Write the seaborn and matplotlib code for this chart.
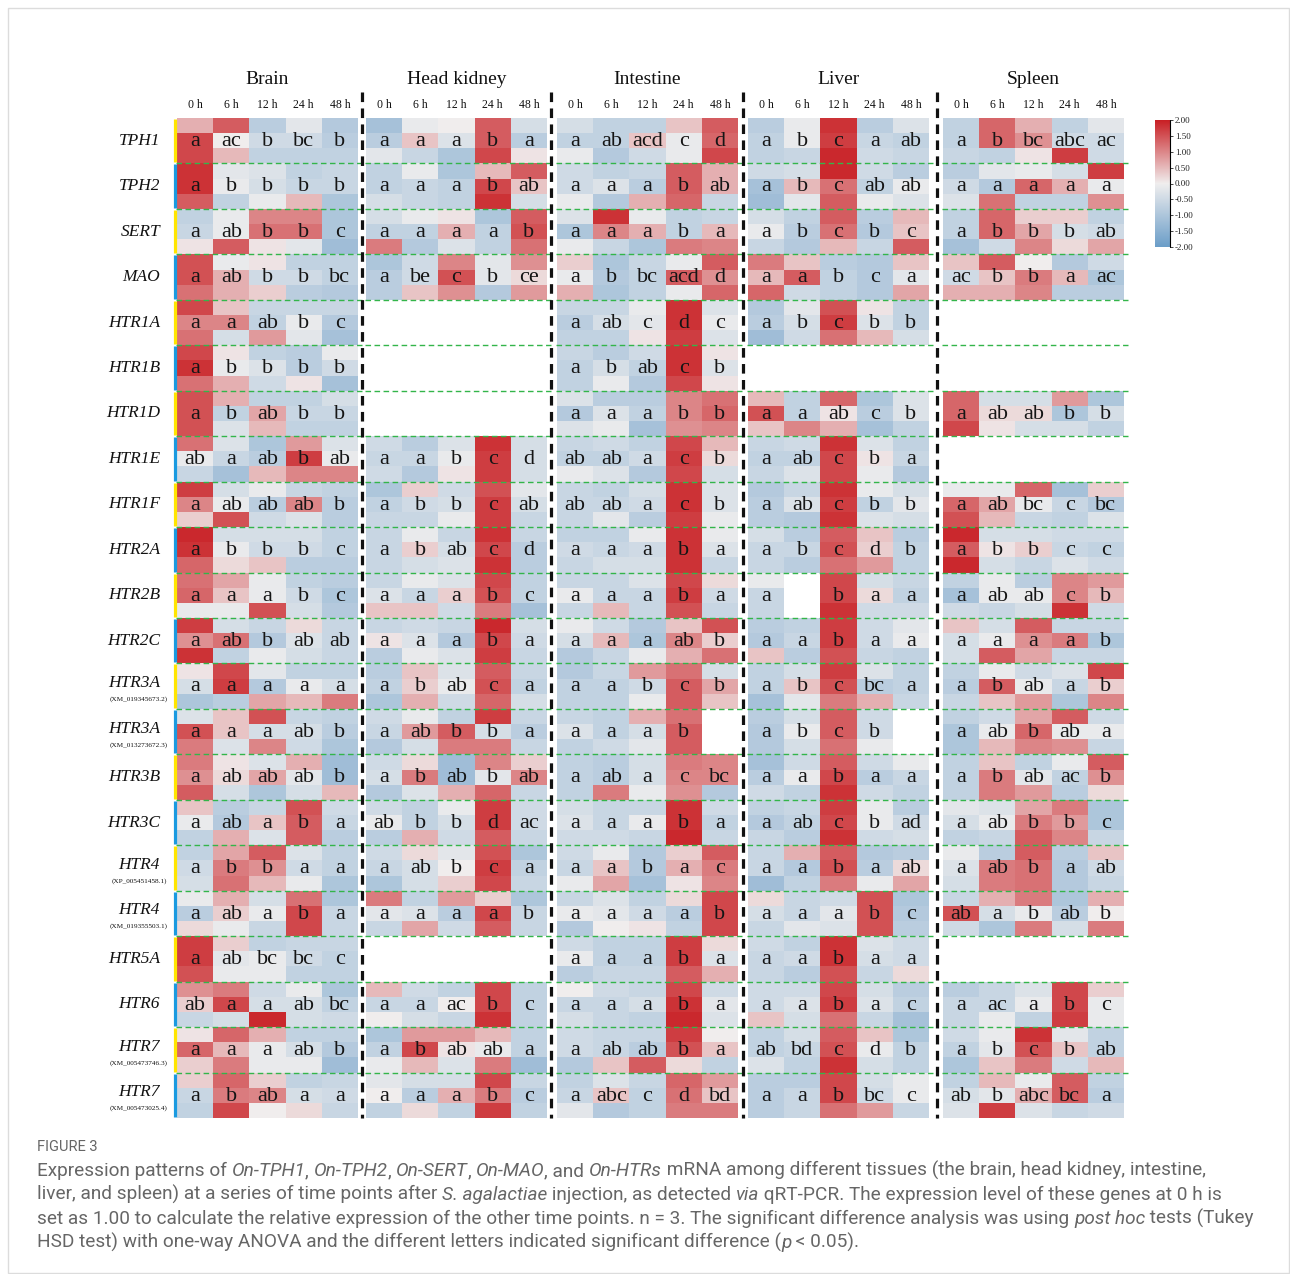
import numpy as np
import pandas as pd
import seaborn as sns
import matplotlib.pyplot as plt
from matplotlib.colors import LinearSegmentedColormap
from matplotlib.patches import Rectangle
from matplotlib import font_manager

nan = np.nan

genes = ["TPH1", "TPH2", "SERT", "MAO", "HTR1A", "HTR1B", "HTR1D", "HTR1E", "HTR1F",
         "HTR2A", "HTR2B", "HTR2C", "HTR3A", "HTR3A", "HTR3B", "HTR3C", "HTR4", "HTR4",
         "HTR5A", "HTR6", "HTR7", "HTR7"]
accessions = ["", "", "", "", "", "", "", "", "", "", "", "",
              "(XM_019345673.2)", "(XM_013273672.3)", "", "",
              "(XP_005451458.1)", "(XM_019355503.1)", "", "",
              "(XM_005473746.3)", "(XM_005473025.4)"]
tissues = ["Brain", "Head kidney", "Intestine", "Liver", "Spleen"]
times = ["0 h", "6 h", "12 h", "24 h", "48 h"]

# relative expression (log scale, -2..2), 3 replicates per gene, None = not detected
brain = [
    [[0.6, 1.4, -0.8, -0.2, -0.9], [1.6, 0.0, -0.5, -0.5, -0.8], [1.6, 0.5, -0.7, -0.7, -0.7]],
    [[1.8, -0.2, -0.3, -0.7, -0.6], [1.8, -0.1, -0.4, -0.6, -0.6], [1.4, -0.7, -0.1, 0.5, -1.0]],
    [[-0.7, -0.1, 1.0, 1.0, -1.0], [-0.6, -0.1, 1.2, 1.2, -1.0], [0.1, 1.4, 0.1, -0.2, -1.2]],
    [[1.5, -0.1, 0.1, -0.7, -0.7], [1.5, 0.6, -0.5, -0.5, -0.7], [1.2, 0.6, 0.3, -0.8, -0.9]],
    [[1.6, 0.4, -0.6, -0.6, -0.6], [1.0, 1.0, -0.7, -0.1, -0.9], [1.2, -0.4, 0.8, -0.2, -1.1]],
    [[1.6, 0.1, -0.7, -0.8, -0.1], [1.8, -0.1, -0.3, -0.8, -0.5], [1.2, 0.6, -0.5, 0.1, -1.1]],
    [[1.5, 0.6, -0.7, -0.7, -0.4], [1.5, -0.7, 0.7, -0.6, -0.6], [1.5, -0.3, 0.5, -0.7, -0.7]],
    [[1.2, -0.3, -1.0, 0.8, -0.3], [-0.1, -0.6, -0.8, 1.7, -0.1], [-0.6, -1.1, 0.5, 1.0, 1.0]],
    [[1.7, -0.4, -0.1, -0.6, -0.7], [1.0, -0.1, -0.8, 1.0, -0.8], [0.3, 1.5, -0.5, -0.3, -0.8]],
    [[1.9, -0.4, -0.4, -0.4, -0.7], [1.8, -0.1, -0.5, -0.5, -0.7], [1.3, 0.2, 0.4, -0.8, -0.8]],
    [[1.2, 0.7, -0.1, -0.7, -0.8], [1.3, 0.4, -0.1, -0.5, -1.0], [-0.1, -0.1, 1.5, -0.4, -0.9]],
    [[1.7, -0.4, -0.6, 0.2, -0.6], [0.9, 1.2, -0.9, -0.3, -0.6], [1.8, -0.7, -0.1, -0.4, -0.6]],
    [[0.1, 1.6, -0.2, -0.7, -0.7], [-0.4, 1.7, -0.9, -0.1, -0.4], [-1.0, -0.8, 0.7, 0.5, 1.1]],
    [[-0.3, 0.4, 1.5, -0.6, -0.7], [1.5, 0.4, -0.4, -0.4, -0.8], [1.1, -0.3, 1.0, -0.5, -1.0]],
    [[1.1, 0.1, -0.3, 0.6, -1.2], [0.9, 0.2, 0.7, -0.2, -1.2], [1.4, -0.4, -1.0, -0.4, 0.5]],
    [[0.4, -0.8, -0.6, 1.5, -0.5], [-0.1, -0.9, 0.4, 1.4, -0.6], [-0.7, 0.6, -0.3, 1.4, -0.8]],
    [[-0.7, 0.7, 1.4, -0.3, -0.7], [-0.5, 1.1, 0.9, -0.5, -0.7], [-0.4, 1.2, 0.5, -0.1, -1.0]],
    [[-0.1, 0.6, -0.4, 1.2, -1.0], [-0.8, 0.3, -0.1, 1.6, -0.6], [0.2, -0.1, -0.6, 1.6, -0.6]],
    [[1.7, 0.3, -0.7, -0.6, -0.6], [1.7, -0.2, -0.1, -0.5, -0.7], [1.5, -0.1, -0.1, -0.7, -0.7]],
    [[0.9, 1.1, -0.5, -0.1, -1.0], [0.3, 1.6, -0.4, -0.4, -0.7], [-0.6, -0.4, 1.9, -0.4, -0.5]],
    [[0.1, 1.3, 0.6, -0.7, -0.7], [1.3, 0.5, -0.1, -0.4, -0.9], [0.3, 1.1, -0.1, -0.1, -1.2]],
    [[0.3, 1.3, 0.3, -0.7, -0.6], [-0.6, 1.1, 1.0, -0.4, -0.5], [-0.7, 1.6, 0.0, 0.2, -0.6]],
]
head_kidney = [
    [[-1.1, -0.1, 0.0, 1.4, -0.4], [-0.8, 0.4, -0.3, 1.4, -0.8], [-0.2, -0.6, -1.0, 1.6, 0.1]],
    [[-0.7, -0.1, -1.0, 0.5, 1.4], [-0.7, -0.6, -0.7, 1.6, 0.4], [-0.4, -0.6, -0.7, 1.8, -0.4]],
    [[-0.4, -0.1, 0.1, -1.0, 1.4], [-0.7, -0.7, 0.6, -0.7, 1.5], [1.1, -0.9, -0.3, -0.7, 1.2]],
    [[-1.0, -0.5, 1.0, -0.2, 0.9], [-0.8, -0.5, 1.5, -0.2, 0.2], [-0.8, 0.4, 0.9, -0.9, 0.8]],
    None,
    None,
    None,
    [[-0.5, -0.8, -0.3, 1.8, -0.4], [-0.6, -0.6, -0.1, 1.7, -0.4], [-0.5, -0.9, 0.1, 1.7, -0.4]],
    [[-1.0, 0.3, -0.5, 1.5, -0.2], [-0.7, -0.5, -0.4, 1.7, -0.4], [-0.6, -0.6, -0.1, 1.7, -0.6]],
    [[-0.6, -0.1, -0.6, 1.8, -0.6], [-0.6, 0.3, -0.4, 1.6, -0.8], [-0.6, -0.4, -0.3, 1.8, -0.8]],
    [[-0.6, -0.1, -0.3, 1.6, -0.7], [-0.3, -0.6, 0.3, 1.5, -0.7], [0.4, 0.4, -0.5, 1.1, -1.1]],
    [[-0.6, -0.5, -0.6, 1.9, -0.4], [0.1, -0.3, -0.9, 1.6, -0.5], [-0.8, -0.1, -0.3, 1.7, -0.6]],
    [[-0.8, 0.4, -0.3, 1.4, -0.6], [-0.7, 0.3, -0.1, 1.5, -0.7], [-1.0, 0.6, -0.5, 1.3, -0.4]],
    [[-0.5, -0.1, -0.7, 1.7, -0.6], [-0.6, 0.8, 1.4, -0.4, -0.8], [-0.9, -0.4, 1.1, 1.1, -0.6]],
    [[-0.5, 0.2, -1.2, 1.0, 0.3], [-0.4, 1.1, -1.2, -0.2, 1.0], [-0.9, -0.3, 0.6, 1.3, -0.6]],
    [[-0.5, -0.7, -0.1, 1.7, -0.5], [-0.1, -0.7, -0.4, 1.7, -0.5], [-0.8, 0.6, -0.5, 1.4, -0.6]],
    [[-0.5, 0.2, -0.2, 1.5, -1.0], [-0.6, -0.4, 0.0, 1.7, -0.7], [-1.0, -0.4, 0.3, 1.6, -0.6]],
    [[1.1, -0.7, 0.8, 0.3, -1.0], [-0.2, -0.3, -0.8, 1.6, -0.6], [-0.6, 0.7, -0.5, 1.4, -0.6]],
    None,
    [[0.5, -0.5, -0.7, 1.6, -0.7], [-0.6, -0.6, 0.0, 1.6, -0.7], [0.0, -0.4, -0.6, 1.8, -0.7]],
    [[-1.0, 0.8, 0.8, 0.5, -0.7], [-0.7, 1.6, 0.1, -0.1, -0.7], [-0.1, 0.5, -0.3, 1.1, -1.2]],
    [[-0.2, -0.4, -0.4, 1.6, -0.6], [0.0, -0.8, 0.6, 1.1, -0.8], [-0.7, 0.2, -0.7, 1.7, -0.7]],
]
intestine = [
    [[-0.4, -0.7, -0.7, 0.4, 1.4], [-0.7, -0.7, 0.4, -0.1, 1.3], [-0.1, -0.9, -0.5, -0.1, 1.6]],
    [[-0.5, -0.7, -0.6, 1.4, 0.6], [-0.5, -0.3, -0.8, 1.4, 0.6], [-0.1, -0.9, 0.6, 1.3, -0.6]],
    [[-0.3, 1.8, -0.1, -0.7, -0.6], [-1.0, 1.0, 0.6, -0.7, 0.5], [-0.1, -0.6, -1.0, 1.1, 1.0]],
    [[0.3, -1.0, -0.6, -0.1, 1.4], [-0.1, -0.9, -0.7, 1.4, 0.9], [0.6, -1.0, -0.7, -0.1, 1.3]],
    [[-0.6, -0.6, -0.1, 1.8, -0.3], [-0.8, -0.4, -0.2, 1.8, -0.1], [-0.7, -0.7, 0.1, 1.7, -0.3]],
    [[-0.6, -0.8, -0.5, 1.8, 0.1], [-0.7, -0.4, -0.7, 1.8, -0.3], [-0.7, -0.1, -0.9, 1.6, 0.1]],
    [[-0.3, -0.8, -0.8, 1.0, 1.2], [-0.9, -0.3, -0.7, 1.0, 1.3], [-0.3, -0.1, -1.1, 0.9, 1.0]],
    [[-0.6, -0.5, -0.7, 1.6, 0.5], [-0.7, -0.7, -0.5, 1.7, 0.2], [-0.1, -0.3, -0.9, 1.6, -0.4]],
    [[-0.6, -0.7, -0.4, 1.8, -0.3], [-0.6, -0.6, -0.5, 1.8, -0.3], [-0.6, -0.2, -0.8, 1.7, -0.1]],
    [[-0.7, -0.7, -0.1, 1.8, -0.1], [-0.5, -0.6, -0.5, 1.8, -0.3], [-0.6, -0.4, -0.4, 1.8, -0.6]],
    [[-0.6, -0.6, -0.3, 1.6, 0.2], [-0.1, -0.6, -0.6, 1.7, -0.5], [-0.6, 0.5, -0.6, 1.5, -0.6]],
    [[-0.1, -0.5, -0.9, 0.4, 1.5], [-0.4, 0.5, -1.0, 1.0, 0.3], [-0.9, -0.6, -0.1, 0.6, 1.2]],
    [[-0.9, -0.6, 0.8, 1.2, -0.4], [-0.7, -0.7, -0.5, 1.4, 0.7], [-0.7, -0.7, -0.1, 1.4, 0.4]],
    [[-0.6, -0.7, 0.6, 1.2, nan], [-0.3, -0.7, -0.4, 1.4, nan], [-0.7, -0.5, -0.2, 1.4, nan]],
    [[-0.7, -0.8, -0.4, 1.1, 1.0], [-0.7, -0.8, -0.4, 1.0, 1.0], [-0.7, 1.1, -0.1, 0.9, -0.9]],
    [[-0.4, -0.6, -0.6, 1.8, -0.5], [-0.3, -0.6, -0.1, 1.8, -0.7], [-0.5, -0.5, -0.6, 1.9, -0.6]],
    [[-0.5, -0.1, -0.9, 0.3, 1.4], [-0.6, 0.4, -0.9, 0.6, 1.1], [-0.1, 0.7, -1.1, 0.1, 1.0]],
    [[-0.6, -0.3, -0.7, 0.2, 1.6], [-0.1, -0.2, -0.5, -0.8, 1.6], [-0.9, 0.0, 0.1, -0.7, 1.6]],
    [[-0.5, -0.7, -0.7, 1.7, 0.2], [-0.1, -0.7, -0.7, 1.7, -0.3], [-0.8, -0.6, -0.6, 1.4, 0.6]],
    [[0.0, -0.5, -0.6, 1.6, -0.5], [-0.6, -0.6, -0.4, 1.8, -0.2], [-0.4, -0.6, -0.7, 1.9, -0.3]],
    [[-0.5, -0.6, -0.6, 1.7, 0.0], [-0.5, -0.6, -0.8, 1.5, 0.4], [-0.9, 0.4, 1.4, 0.2, -0.7]],
    [[-0.7, -0.3, -0.6, 1.3, 0.8], [-0.6, 0.4, -0.7, 1.2, 0.4], [-0.2, -0.9, -0.7, 1.1, 1.1]],
]
liver = [
    [[-0.8, -0.1, 1.8, -0.8, -0.3], [-0.7, -0.1, 1.7, -0.6, -0.7], [-0.7, -0.6, 1.9, -0.5, -0.6]],
    [[-0.5, -0.4, 1.9, -0.5, -0.8], [-1.1, 0.5, 1.2, -0.7, -0.1], [-1.2, -0.2, 1.4, -0.1, -0.3]],
    [[-0.4, -0.7, 1.4, -0.8, 0.5], [-0.1, -0.8, 1.2, -0.9, 0.4], [-0.6, -0.9, 0.5, -0.6, 1.4]],
    [[1.1, 0.4, -0.8, -0.9, 0.4], [0.5, 1.4, -0.7, -0.9, -0.2], [1.3, -0.5, -0.7, -0.9, 0.7]],
    [[-0.9, -0.2, 1.5, 0.1, -0.7], [-0.8, -0.4, 1.7, -0.3, -0.7], [-1.2, -0.5, 1.2, 0.5, -0.4]],
    None,
    [[0.5, -0.7, 1.3, -1.0, -0.3], [1.5, -0.7, 0.1, -0.8, -0.3], [0.4, 1.0, 0.6, -1.1, -0.7]],
    [[-0.6, -0.5, 1.8, -0.3, -0.7], [-0.7, -0.7, 1.6, 0.1, -0.6], [-0.6, -0.3, 1.6, -0.1, -0.9]],
    [[-0.9, -0.6, 1.8, -0.1, -0.4], [-0.8, -0.3, 1.7, -0.7, -0.2], [-0.8, -0.9, 1.8, -0.3, -0.4]],
    [[-0.4, -0.8, 1.4, 0.4, -0.8], [-0.6, -0.6, 1.5, 0.3, -0.7], [-0.6, -0.8, 1.2, 0.8, -0.7]],
    [[-0.1, nan, 1.6, -0.4, -0.6], [-0.6, nan, 1.6, 0.2, -0.7], [-0.6, nan, 1.8, -0.5, -0.5]],
    [[-0.8, -0.7, 1.7, -0.5, -0.2], [-0.9, -0.6, 1.7, -0.5, -0.1], [0.4, -0.8, 1.5, -0.6, -0.7]],
    [[-0.7, -0.4, 1.7, -0.3, -0.7], [-0.7, 0.4, 1.5, -0.8, -0.7], [-1.1, -0.2, 1.1, 0.6, -0.6]],
    [[-0.8, -0.4, 1.4, -0.5, nan], [-0.9, -0.1, 1.4, -0.5, nan], [-0.9, -0.4, 1.2, -0.1, nan]],
    [[-1.1, -0.5, 1.4, -0.5, -0.1], [-0.8, -0.1, 1.6, -0.8, -0.6], [-0.5, -0.7, 1.8, -0.5, -0.7]],
    [[-0.7, -0.6, 1.7, -0.1, -0.8], [-0.9, -0.7, 1.6, -0.1, -0.5], [-0.6, -0.8, 1.8, -0.5, -0.4]],
    [[-0.6, 0.6, 1.4, -0.9, -0.8], [-0.6, -0.9, 1.5, -0.8, 0.2], [-1.2, -0.7, 1.1, -0.1, 0.7]],
    [[0.2, -0.6, -0.5, 1.5, -1.0], [-0.4, -0.6, -0.2, 1.5, -0.9], [-0.6, -0.2, -0.3, 1.5, -0.8]],
    [[-0.5, -0.7, 1.8, -0.3, -0.5], [-0.6, -0.5, 1.8, -0.4, -0.5], [-0.6, -0.8, 1.5, -0.6, 0.2]],
    [[-0.5, -0.5, 1.6, -0.4, -0.8], [-0.5, -0.3, 1.7, -0.3, -0.7], [0.4, -0.4, 1.2, -0.6, -1.1]],
    [[-0.7, -0.4, 1.4, 0.4, -1.0], [-0.7, -0.6, 1.5, -0.1, -0.7], [-0.3, -0.7, 1.8, -0.4, -0.7]],
    [[-0.8, -0.8, 1.6, -0.4, -0.1], [-0.8, -0.6, 1.6, -0.5, -0.1], [-0.8, -0.6, 1.2, 0.8, -0.6]],
]
spleen = [
    [[-0.7, 1.3, 0.6, -0.7, -0.2], [-0.7, 1.3, 0.9, -0.5, -0.5], [-0.6, -0.7, 0.1, 1.7, -0.5]],
    [[-0.8, -0.2, -0.1, -0.4, 1.7], [-0.5, -0.9, 1.3, 0.6, -0.1], [-0.3, 1.2, -0.7, -0.7, 0.9]],
    [[-0.7, 1.3, 0.3, 0.3, -0.7], [-0.7, 1.3, 0.7, -0.4, -0.5], [-1.1, -0.5, 1.0, 0.2, 0.7]],
    [[0.4, 1.4, 0.0, -0.9, -0.5], [-0.5, 0.4, 1.1, 0.5, -1.0], [0.6, 0.6, 1.0, -0.8, -0.8]],
    None,
    None,
    [[1.3, -0.4, -0.4, 0.8, -1.0], [1.3, 0.2, 0.2, -1.0, -0.4], [1.6, 0.1, -0.4, -0.4, -0.7]],
    None,
    [[-0.1, -0.1, 1.3, -1.1, 0.3], [1.3, 0.7, -0.1, -0.6, -0.9], [1.5, 0.5, -0.6, -0.7, -0.3]],
    [[1.9, -0.4, -0.4, -0.5, -0.5], [1.4, 0.1, 0.3, -0.6, -0.7], [1.9, -0.4, -0.6, -0.3, -0.5]],
    [[-0.7, -0.1, -0.8, 1.0, 0.8], [-1.1, -0.1, -0.1, 1.0, 0.5], [-0.5, -0.6, -0.4, 1.8, -0.5]],
    [[0.4, -0.4, 1.4, -0.6, -0.6], [-0.4, -0.1, 0.9, 1.1, -1.0], [-0.4, 1.4, 0.7, -0.6, -0.6]],
    [[-0.7, -0.1, -0.5, -0.3, 1.6], [-0.8, 1.4, -0.1, -0.6, 0.3], [-0.6, 0.4, 0.8, -1.0, 1.0]],
    [[-0.7, -0.5, 0.7, 1.4, -0.5], [-1.0, -0.1, 1.3, -0.1, -0.1], [-1.0, 0.5, 1.0, 0.9, -0.6]],
    [[-0.7, 0.4, -0.7, -0.1, 1.4], [-0.7, 1.1, -0.2, -0.7, 0.9], [-0.7, 1.1, 0.8, -0.8, 0.2]],
    [[-0.2, -0.3, 0.7, 1.1, -1.0], [-0.4, -0.1, 1.1, 0.8, -1.0], [-0.7, -0.6, 1.4, 1.0, -0.6]],
    [[-0.1, -0.8, 1.4, -0.8, 0.4], [-0.3, 1.1, 1.2, -0.9, -0.5], [-0.4, 1.1, 1.2, -0.9, -0.6]],
    [[-0.6, 0.6, 1.1, -1.0, 0.6], [1.5, -0.4, -0.1, -0.8, 0.0], [-0.5, -1.0, 1.1, -0.4, 1.1]],
    None,
    [[-0.8, -0.6, -0.3, 1.6, 0.3], [-0.6, -0.6, -0.1, 1.6, -0.1], [-0.6, -0.1, -0.7, 1.7, -0.1]],
    [[-0.5, -0.1, 1.8, -0.2, -0.7], [-0.7, -0.2, 1.5, 0.4, -0.7], [-1.0, 0.4, 1.1, -0.5, 0.5]],
    [[-0.7, 0.5, -0.1, 1.4, -0.7], [-0.4, -0.2, 0.6, 1.4, -0.8], [-0.3, 1.7, -0.3, -0.6, -0.5]],
]

# Tukey HSD letters, one string per gene ("-" = no letter)
brain_letters = ["a ac b bc b", "a b b b b", "a ab b b c", "a ab b b bc", "a a ab b c",
                 "a b b b b", "a b ab b b", "ab a ab b ab", "a ab ab ab b", "a b b b c",
                 "a a a b c", "a ab b ab ab", "a a a a a", "a a a ab b", "a ab ab ab b",
                 "a ab a b a", "a b b a a", "a ab a b a", "a ab bc bc c", "ab a a ab bc",
                 "a a a ab b", "a b ab a a"]
head_kidney_letters = ["a a a b a", "a a a b ab", "a a a a b", "a be c b ce", "", "", "",
                       "a a b c d", "a b b c ab", "a b ab c d", "a a a b c", "a a a b a",
                       "a b ab c a", "a ab b b a", "a b ab b ab", "ab b b d ac", "a ab b c a",
                       "a a a a b", "", "a a ac b c", "a b ab ab a", "a a a b c"]
intestine_letters = ["a ab acd c d", "a a a b ab", "a a a b a", "a b bc acd d", "a ab c d c",
                     "a b ab c b", "a a a b b", "ab ab a c b", "ab ab a c b", "a a a b a",
                     "a a a b a", "a a a ab b", "a a b c b", "a a a b -", "a ab a c bc",
                     "a a a b a", "a a b a c", "a a a a b", "a a a b a", "a a a b a",
                     "a ab ab b a", "a abc c d bd"]
liver_letters = ["a b c a ab", "a b c ab ab", "a b c b c", "a a b c a", "a b c b b", "",
                 "a a ab c b", "a ab c b a", "a ab c b b", "a b c d b", "a - b a a",
                 "a a b a a", "a b c bc a", "a b c b -", "a a b a a", "a ab c b ad",
                 "a a b a ab", "a a a b c", "a a b a a", "a a b a c", "ab bd c d b",
                 "a a b bc c"]
spleen_letters = ["a b bc abc ac", "a a a a a", "a b b b ab", "ac b b a ac", "", "",
                  "a ab ab b b", "", "a ab bc c bc", "a b b c c", "a ab ab c b", "a a a a b",
                  "a b ab a b", "a ab b ab a", "a b ab ac b", "a ab b b c", "a ab b a ab",
                  "ab a b ab b", "", "a ac a b c", "a b c b ab", "ab b abc bc a"]

blocks = [brain, head_kidney, intestine, liver, spleen]
letters = [brain_letters, head_kidney_letters, intestine_letters, liver_letters, spleen_letters]

sns.set_style("white")
plt.rcParams['font.family'] = 'serif'
plt.rcParams['font.serif'] = ['Liberation Serif', 'DejaVu Serif']
plt.rcParams['axes.unicode_minus'] = False

installed = {f.name for f in font_manager.fontManager.ttflist}
cap_font = 'Open Sans'
for name in ['Liberation Sans Narrow', 'Roboto', 'Open Sans']:
    if name in installed:
        cap_font = name
        break

W, H = 1290, 1274
fig = plt.figure(figsize=(W / 100, H / 100), dpi=100)

top, bottom = 118, 1118
x_starts = [177, 366, 557, 748, 943]
blk_w = 181
row_h = (bottom - top) / len(genes)

cmap = LinearSegmentedColormap.from_list("bwr_soft", ["#6a9dc8", "#f0eeee", "#c81e23"])
cax = fig.add_axes([1155 / W, 1 - 247 / H, 15 / W, 127 / H])

for i, vals in enumerate(blocks):
    rows = []
    for g in vals:
        if g is None:
            rows += [[nan] * 5] * 3
        else:
            rows += g
    df = pd.DataFrame(rows, columns=times)
    ax = fig.add_axes([x_starts[i] / W, 1 - bottom / H, blk_w / W, (bottom - top) / H])
    ax.set_facecolor('white')
    sns.heatmap(df, ax=ax, cmap=cmap, vmin=-2, vmax=2, cbar=(i == 0),
                cbar_ax=cax if i == 0 else None, xticklabels=False, yticklabels=False)
    ax.set_xlabel('')
    ax.set_ylabel('')
    for gi, s in enumerate(letters[i]):
        for ci, lt in enumerate(s.split()):
            if lt != '-':
                ax.text(ci + 0.5, gi * 3 + 1.55, lt, ha='center', va='center',
                        fontsize=16, color='#151515')
    for gi in range(1, len(genes)):
        ax.plot([-0.02, 5.12], [gi * 3, gi * 3], color='#33b54a', lw=1.0,
                ls=(0, (4, 2.5)), clip_on=False)
    if i == 0:
        cbar = ax.collections[0].colorbar
        cbar.set_ticks(np.arange(-2, 2.01, 0.5))
        cbar.ax.yaxis.set_major_formatter('{x:.2f}')
        cbar.ax.tick_params(labelsize=6.5, length=2.5, width=0.6, pad=1, colors='#222')
        cbar.outline.set_visible(False)
        cbar.ax.plot([1, 1], [-2, 2], color='k', lw=0.8, clip_on=False)

# overlay in pixel coordinates for labels and separators
ov = fig.add_axes([0, 0, 1, 1], zorder=5)
ov.set_xlim(0, W)
ov.set_ylim(H, 0)
ov.axis('off')

ov.add_patch(Rectangle((8, 8), W - 9, H - 9, fill=False, ec='#dcdcdc', lw=1))

for i, t in enumerate(tissues):
    cx = x_starts[i] + blk_w / 2
    ov.text(cx, 80, t, ha='center', va='center', fontsize=14, color='#111')
    for ci, tm in enumerate(times):
        ov.text(x_starts[i] + (ci + 0.5) * blk_w / 5, 105, tm, ha='center', va='center',
                fontsize=8.5, color='#111')

for x in [362, 551, 743, 937]:
    ov.plot([x, x], [92, bottom], color='#111', lw=2.3, ls=(0, (3, 2)))

for gi, g in enumerate(genes):
    yc = top + (gi + 0.5) * row_h
    if accessions[gi]:
        ov.text(160, yc - 3, g, ha='right', va='center', fontsize=12.5, style='italic', color='#111')
        ov.text(139, yc + 13, accessions[gi], ha='center', va='center', fontsize=5.2, color='#111')
    else:
        ov.text(160, yc, g, ha='right', va='center', fontsize=12.5, style='italic', color='#111')
    ov.plot([175, 175], [top + gi * row_h + 1, top + (gi + 1) * row_h - 1],
            color='#ffe500' if gi % 2 == 0 else '#1a9ae0', lw=2.3, solid_capstyle='butt')

# caption with mixed italic runs
renderer = fig.canvas.get_renderer()


def text_width(s, size, italic):
    t = ov.text(0, 0, '|' + s + '|', fontsize=size, family=cap_font,
                style='italic' if italic else 'normal')
    t2 = ov.text(0, 0, '||', fontsize=size, family=cap_font)
    w = t.get_window_extent(renderer).width - t2.get_window_extent(renderer).width
    t.remove()
    t2.remove()
    return w


caption = [
    [("Expression patterns of ", 0), ("On-TPH1", 1), (", ", 0), ("On-TPH2", 1), (", ", 0),
     ("On-SERT", 1), (", ", 0), ("On-MAO", 1), (", and ", 0), ("On-HTRs", 1),
     (" mRNA among different tissues (the brain, head kidney, intestine,", 0)],
    [("liver, and spleen) at a series of time points after ", 0), ("S. agalactiae", 1),
     (" injection, as detected ", 0), ("via", 1),
     (" qRT-PCR. The expression level of these genes at 0 h is", 0)],
    [("set as 1.00 to calculate the relative expression of the other time points. n = 3. "
      "The significant difference analysis was using ", 0), ("post hoc", 1), (" tests (Tukey", 0)],
    [("HSD test) with one-way ANOVA and the different letters indicated significant difference (", 0),
     ("p", 1), (" < 0.05).", 0)],
]

widest = max(sum(text_width(s, 10, it) for s, it in line) for line in caption)
cap_size = 10 * 1215 / widest

ov.text(37, 1151, "FIGURE 3", fontsize=10.5, family=cap_font, color='#666', va='baseline')
for li, line in enumerate(caption):
    x = 37
    y = 1176 + li * 24
    for s, it in line:
        ov.text(x, y, s, fontsize=cap_size, family=cap_font, style='italic' if it else 'normal',
                color='#666', va='baseline', ha='left')
        x += text_width(s, cap_size, it)

fig.savefig("out.png", dpi=100)
